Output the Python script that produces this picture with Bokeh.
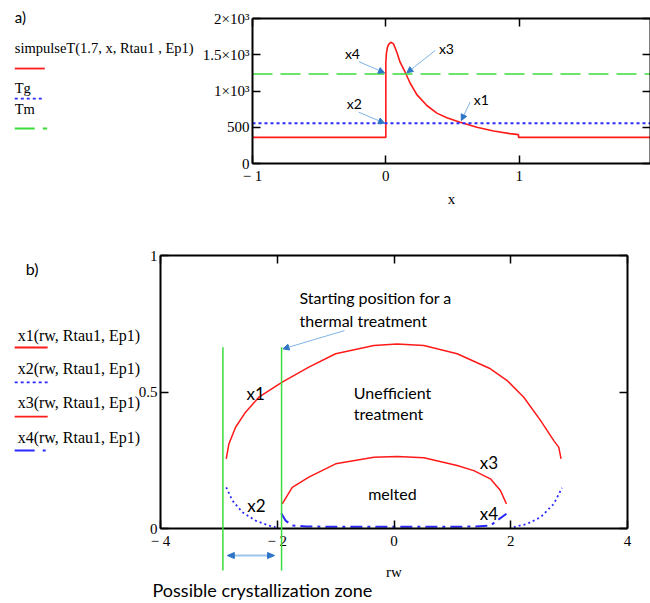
import numpy as np
from bokeh.plotting import figure
from bokeh.models import (Range1d, FixedTicker, LinearAxis, Arrow,
                          NormalHead, CustomJSTickFormatter)
from bokeh.core.properties import value
from bokeh.embed import file_html
from bokeh.resources import INLINE

# ---------------- Panel a data ----------------
a_x = [-1, 0, 0, 0.005, 0.012, 0.02, 0.0375, 0.0575, 0.0825, 0.107, 0.145, 0.182,
       0.2325, 0.3075, 0.3825, 0.4575, 0.557, 0.683, 0.808, 0.932, 0.995, 0.995, 2.0]
a_T = [360, 360, 1400, 1530, 1600, 1640, 1673, 1650, 1535, 1397, 1259, 1110,
       950, 800, 695, 632, 570, 501, 448, 412, 398, 360, 360]
Tg = 555
Tm = 1235
a_span = [-1, 2]
a_xticks = [-1, 0, 1]
a_xtick_labels = ["\u2212 1", "0", "1"]
a_yticks = [0, 500, 1000, 1500, 2000]
a_ytick_labels = ["0", "500", "1\u00d710\u00b3", "1.5\u00d710\u00b3", "2\u00d710\u00b3"]

# ---------------- Panel b data ----------------
x1_rw = [-2.874, -2.828, -2.714, -2.543, -2.315, -1.915, -1.459, -1.0, -0.345, 0.055,
         0.511, 1.082, 1.652, 1.938, 2.223, 2.509, 2.737, 2.822, 2.862]
x1_v = [0.255, 0.310, 0.371, 0.426, 0.481, 0.536, 0.591, 0.640, 0.670, 0.676,
        0.670, 0.640, 0.585, 0.542, 0.481, 0.396, 0.322, 0.298, 0.255]
x2_rw = [-2.874, -2.77, -2.60, -2.372, -2.144, -2.03, np.nan,
         2.052, 2.281, 2.509, 2.737, 2.879]
x2_v = [0.151, 0.103, 0.060, 0.029, 0.011, 0.005, np.nan,
        0.005, 0.017, 0.041, 0.090, 0.149]
x3_rw = [-1.915, -1.743, -1.459, -1.0, -0.345, 0.055, 0.511, 1.082, 1.367, 1.652, 1.823, 1.926]
x3_v = [0.090, 0.151, 0.188, 0.237, 0.261, 0.264, 0.259, 0.231, 0.212, 0.182, 0.139, 0.090]
x4_rw = [-1.932, -1.858, -1.743, -1.5, 0.0, 1.4, 1.652, 1.766, 1.926]
x4_v = [0.056, 0.029, 0.011, 0.007, 0.006, 0.007, 0.011, 0.029, 0.054]
green_rw = [-2.931, -1.926]
green_top = 0.664
green_bottom = -0.154
b_xticks = [-4, -2, 0, 2, 4]
b_xtick_labels = ["\u2212 4", "\u2212 2", "0", "2", "4"]
b_yticks = [0, 0.5, 1]
b_ytick_labels = ["0", "0.5", "1"]

RED = "#ff1a1a"
BLUE = "#2a2aff"
GREEN = "#3ddc3d"
ARROW = "#7fb2e5"
HEAD = "#2e75c6"
SERIF = "Liberation Serif"
SANS = "Lato"


def style(p, xt, xl, yt, yl, xlabel, xstand):
    bx = p.xaxis[0]
    by = p.yaxis[0]
    bx.ticker = FixedTicker(ticks=xt)
    by.ticker = FixedTicker(ticks=yt)
    bx.major_label_overrides = {float(k): v for k, v in zip(xt, xl)}
    by.major_label_overrides = {float(k): v for k, v in zip(yt, yl)}
    bx.axis_label = xlabel
    bx.axis_label_standoff = xstand
    blank = CustomJSTickFormatter(code="return ''")
    ta = LinearAxis(ticker=FixedTicker(ticks=xt), formatter=blank, major_label_standoff=0)
    ra = LinearAxis(ticker=FixedTicker(ticks=yt), formatter=blank, major_label_standoff=0)
    p.add_layout(ta, "above")
    p.add_layout(ra, "right")
    for ax in (bx, by, ta, ra):
        ax.axis_line_color = "black"
        ax.axis_line_width = 2
        ax.major_tick_in = 8
        ax.major_tick_out = 0
        ax.major_tick_line_width = 1.5
        ax.minor_tick_line_color = None
        ax.major_label_text_font = SERIF
        ax.major_label_text_color = "black"
        ax.major_label_text_font_size = "15px"
        ax.axis_label_text_font = SERIF
        ax.axis_label_text_font_style = "normal"
        ax.axis_label_text_font_size = "15px"
        ax.axis_label_text_color = "black"
    bx.major_label_standoff = 4
    by.major_label_standoff = 3
    p.xgrid.visible = False
    p.ygrid.visible = False
    p.outline_line_color = None


def txt(p, xs, ys, ts, font=SANS, size="15px"):
    p.text(x=xs, y=ys, text=ts, text_font=value(font), text_font_size=value(size),
           text_baseline="middle", text_align="left", text_color="black", level="overlay")


def seg(p, x0, y0, x1, y1, color, dash="solid", width=1.5):
    p.segment(x0=[x0], y0=[y0], x1=[x1], y1=[y1], line_color=color, line_dash=dash,
              line_width=width, level="overlay")


def arr(p, x0, y0, x1, y1):
    p.add_layout(Arrow(x_start=x0, y_start=y0, x_end=x1, y_end=y1,
                       end=NormalHead(size=6, fill_color=HEAD, line_color=HEAD),
                       line_color=ARROW, line_width=1))


# ---------------- Panel a ----------------
pa = figure(width=650, height=226, output_backend="svg", toolbar_location=None,
            x_range=Range1d(-1, 1.985), y_range=Range1d(0, 2000),
            min_border_left=252, min_border_right=0, min_border_top=18,
            min_border_bottom=63)
style(pa, a_xticks, a_xtick_labels, a_yticks, a_ytick_labels, "x", 4)
pa.line(a_x, a_T, line_color=RED, line_width=1.6)
pa.line(a_span, [Tg, Tg], line_color=BLUE, line_width=2, line_dash="3 3")
pa.line(a_span, [Tm, Tm], line_color=GREEN, line_width=1.6, line_dash="20 8")

# legend (Mathcad style: label above line sample)
txt(pa, [-2.783], [2027], ["a)"], SANS, "15px")
txt(pa, [-2.783, -2.783, -2.783], [1600, 1048, 758],
    ["simpulseT(1.7, x, Rtau1 , Ep1)", "Tg", "Tm"], SERIF, "14.5px")
seg(pa, -2.783, 1310, -2.558, 1310, RED, width=1.8)
seg(pa, -2.783, 896, -2.558, 896, BLUE, "3 3", 1.8)
seg(pa, -2.783, 483, -2.54, 483, GREEN, "20 8", 1.8)

# annotations
txt(pa, [-0.307, 0.398, -0.293, 0.66], [1517, 1586, 827, 883],
    ["x4", "x3", "x2", "x1"], SANS, "14px")
arr(pa, -0.203, 1406, -0.01, 1251)
arr(pa, 0.370, 1558, 0.158, 1251)
arr(pa, -0.203, 708, -0.01, 556)
arr(pa, 0.633, 848, 0.566, 593)

# ---------------- Panel b ----------------
pb = figure(width=650, height=374, output_backend="svg", toolbar_location=None,
            x_range=Range1d(-4, 4), y_range=Range1d(0, 1),
            min_border_left=160, min_border_right=23, min_border_top=29,
            min_border_bottom=72)
style(pb, b_xticks, b_xtick_labels, b_yticks, b_ytick_labels, "rw", 12)
pb.line(x1_rw, x1_v, line_color=RED, line_width=1.5)
pb.line(x3_rw, x3_v, line_color=RED, line_width=1.5)
pb.line(x2_rw, x2_v, line_color=BLUE, line_width=1.8, line_dash="2 3")
pb.line(x4_rw, x4_v, line_color=BLUE, line_width=2, line_dash="12 5 3 5")
pb.segment(x0=green_rw, y0=[green_bottom] * len(green_rw), x1=green_rw,
           y1=[green_top] * len(green_rw), line_color=GREEN, line_width=1.5, level="overlay")

txt(pb, [-6.31], [0.952], ["b)"], SANS, "16px")
txt(pb, [-6.447] * 4, [0.707, 0.586, 0.462, 0.333],
    ["x1(rw, Rtau1, Ep1)", "x2(rw, Rtau1, Ep1)", "x3(rw, Rtau1, Ep1)", "x4(rw, Rtau1, Ep1)"],
    SERIF, "16px")
seg(pb, -6.498, 0.663, -5.933, 0.663, RED, width=1.8)
seg(pb, -6.498, 0.535, -5.933, 0.535, BLUE, "3 3", 1.8)
seg(pb, -6.498, 0.410, -5.933, 0.410, RED, width=1.8)
seg(pb, -6.498, 0.286, -5.90, 0.286, BLUE, "20 8 3 8", 2)

txt(pb, [-1.618, -1.618, -0.688, -0.688, -0.442],
    [0.846, 0.762, 0.499, 0.420, 0.127],
    ["Starting position for a", "thermal treatment", "Unefficient", "treatment", "melted"],
    SANS, "16px")
txt(pb, [-2.526, 1.469, -2.514, 1.469], [0.494, 0.243, 0.084, 0.056],
    ["x1", "x3", "x2", "x4"], SANS, "17px")
arr(pb, -0.848, 0.725, -1.901, 0.658)

# double-headed arrow below the axis (crystallization zone)
seg(pb, -2.78, -0.099, -2.12, -0.099, "#9cc3ea", width=2)
pb.patch(x=[-2.856, -2.736, -2.736], y=[-0.099, -0.088, -0.110],
         fill_color=HEAD, line_color=HEAD, level="overlay")
pb.patch(x=[-2.046, -2.166, -2.166], y=[-0.099, -0.088, -0.110],
         fill_color=HEAD, line_color=HEAD, level="overlay")
txt(pb, [-4.137], [-0.227], ["Possible crystallization zone"], SANS, "18px")

open("out.html", "w").write(file_html([pa, pb], INLINE))
